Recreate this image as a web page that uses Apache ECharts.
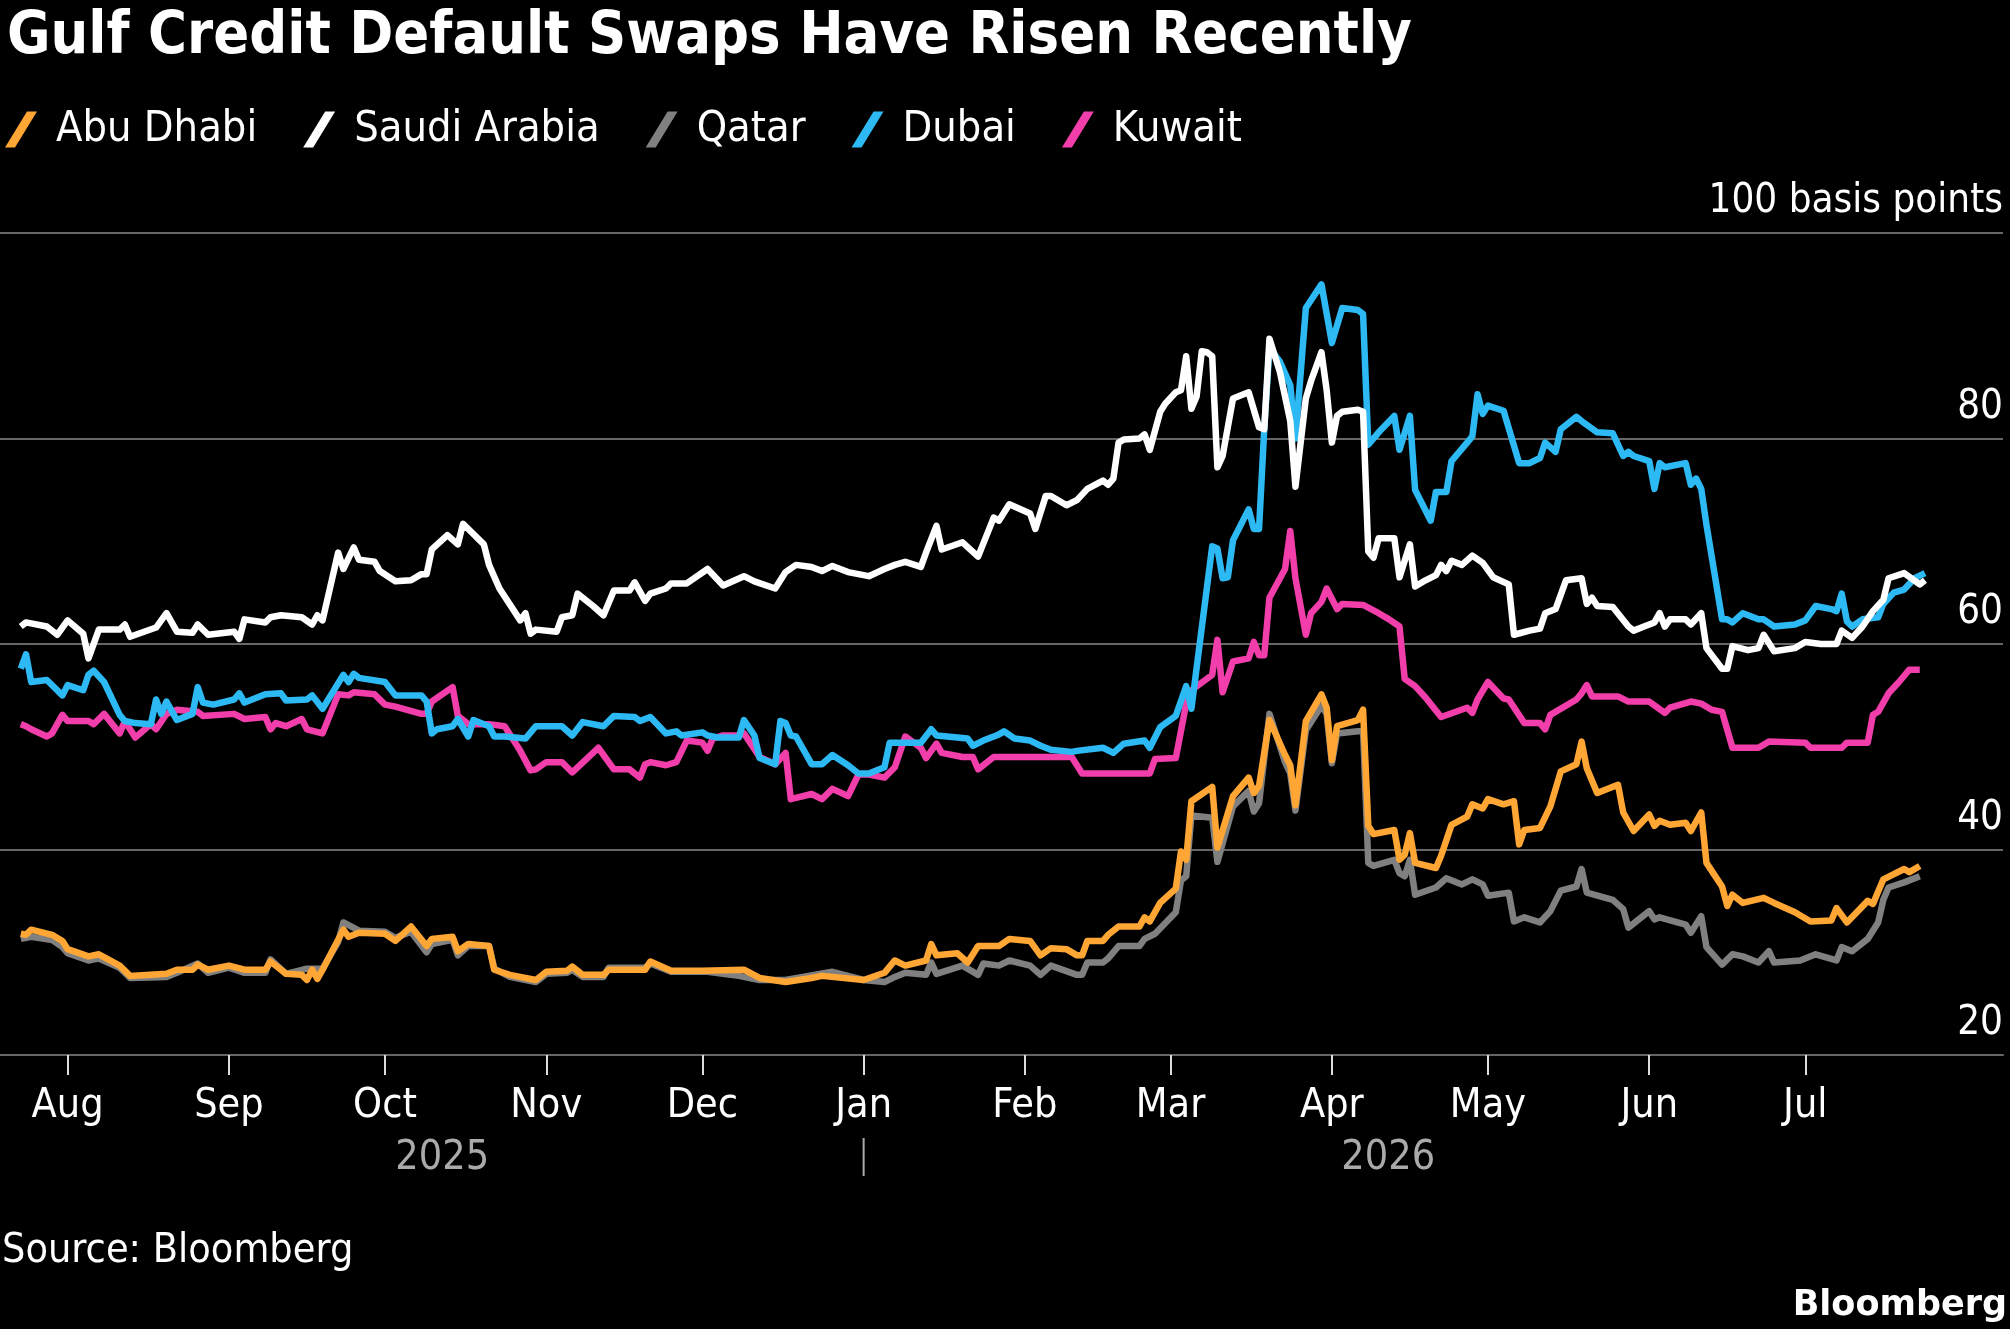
<!DOCTYPE html>
<html>
<head>
<meta charset="utf-8">
<title>Gulf Credit Default Swaps Have Risen Recently</title>
<script src="https://cdn.jsdelivr.net/npm/echarts@6/dist/echarts.min.js"></script>
<style>
  html, body { margin: 0; padding: 0; background: #000; }
  #chart { width: 2010px; height: 1329px; }
</style>
</head>
<body>
<div id="chart"></div>
<script>
const FONT = '"DejaVu Sans Condensed", "DejaVu Sans", sans-serif';
const monthNames = ['Jan', 'Feb', 'Mar', 'Apr', 'May', 'Jun', 'Jul', 'Aug', 'Sep', 'Oct', 'Nov', 'Dec'];
const seriesNames = ['Abu Dhabi', 'Saudi Arabia', 'Qatar', 'Dubai', 'Kuwait'];
const yTicks = [20, 40, 60, 80, 100];
const tickMonths = ['2025-08-01', '2025-09-01', '2025-10-01', '2025-11-01', '2025-12-01', '2026-01-01',
  '2026-02-01', '2026-03-01', '2026-04-01', '2026-05-01', '2026-06-01', '2026-07-01'];

// CDS spreads, basis points
const abuDhabi = [
  ['2025-07-23',31.8],['2025-07-24',31.7],['2025-07-25',32.2],['2025-07-29',31.7],['2025-07-31',31.1],
  ['2025-08-01',30.3],['2025-08-05',29.6],['2025-08-07',29.8],['2025-08-11',28.7],['2025-08-13',27.7],
  ['2025-08-20',27.9],['2025-08-22',28.3],['2025-08-25',28.3],['2025-08-26',28.8],['2025-08-28',28.3],
  ['2025-09-01',28.7],['2025-09-04',28.3],['2025-09-08',28.3],['2025-09-09',29.1],['2025-09-12',27.9],
  ['2025-09-15',27.8],['2025-09-16',27.3],['2025-09-17',28.3],['2025-09-18',27.4],['2025-09-19',28.3],
  ['2025-09-23',32.2],['2025-09-24',31.5],['2025-09-26',31.9],['2025-10-01',31.8],['2025-10-03',31.1],
  ['2025-10-06',32.5],['2025-10-09',30.6],['2025-10-10',31.3],['2025-10-14',31.5],['2025-10-15',30.1],
  ['2025-10-17',30.8],['2025-10-21',30.6],['2025-10-22',28.3],['2025-10-25',27.8],['2025-10-30',27.3],
  ['2025-11-01',28.1],['2025-11-05',28.2],['2025-11-06',28.6],['2025-11-08',27.8],['2025-11-12',27.8],
  ['2025-11-13',28.3],['2025-11-20',28.3],['2025-11-21',29.1],['2025-11-25',28.2],['2025-12-01',28.2],
  ['2025-12-09',28.3],['2025-12-12',27.5],['2025-12-17',27.1],['2025-12-22',27.5],['2025-12-24',27.7],
  ['2026-01-01',27.3],['2026-01-05',28.0],['2026-01-07',29.2],['2026-01-09',28.7],['2026-01-13',29.2],
  ['2026-01-14',30.8],['2026-01-15',29.7],['2026-01-19',29.9],['2026-01-21',29.0],['2026-01-23',30.6],
  ['2026-01-27',30.6],['2026-01-29',31.3],['2026-02-02',31.1],['2026-02-04',29.7],['2026-02-06',30.4],
  ['2026-02-09',30.3],['2026-02-11',29.7],['2026-02-12',29.7],['2026-02-13',31.1],['2026-02-16',31.1],
  ['2026-02-17',31.7],['2026-02-19',32.5],['2026-02-23',32.5],['2026-02-24',33.4],['2026-02-25',33.0],
  ['2026-02-27',34.8],['2026-03-02',36.2],['2026-03-03',39.8],['2026-03-04',39.0],['2026-03-05',44.7],
  ['2026-03-09',46.1],['2026-03-10',40.2],['2026-03-13',45.2],['2026-03-16',47.0],['2026-03-17',45.5],
  ['2026-03-18',46.2],['2026-03-20',52.6],['2026-03-23',49.2],['2026-03-24',48.2],['2026-03-25',44.3],
  ['2026-03-27',52.5],['2026-03-30',55.1],['2026-03-31',53.8],['2026-04-01',48.7],['2026-04-02',52.0],
  ['2026-04-06',52.6],['2026-04-07',53.6],['2026-04-08',42.3],['2026-04-09',41.5],['2026-04-13',41.9],
  ['2026-04-14',39.0],['2026-04-15',39.5],['2026-04-16',41.6],['2026-04-17',38.7],['2026-04-21',38.2],
  ['2026-04-22',39.4],['2026-04-24',42.4],['2026-04-27',43.2],['2026-04-28',44.4],['2026-04-30',44.0],
  ['2026-05-01',44.9],['2026-05-04',44.4],['2026-05-06',44.7],['2026-05-07',40.5],['2026-05-08',41.9],
  ['2026-05-11',42.1],['2026-05-13',44.2],['2026-05-15',47.6],['2026-05-18',48.3],['2026-05-19',50.5],
  ['2026-05-20',47.9],['2026-05-22',45.5],['2026-05-26',46.3],['2026-05-27',43.6],['2026-05-29',41.8],
  ['2026-06-01',43.4],['2026-06-02',42.3],['2026-06-03',42.8],['2026-06-05',42.4],['2026-06-08',42.6],
  ['2026-06-09',41.8],['2026-06-11',43.6],['2026-06-12',38.7],['2026-06-15',36.4],['2026-06-16',34.5],
  ['2026-06-17',35.6],['2026-06-19',34.8],['2026-06-23',35.3],['2026-06-25',34.8],['2026-06-29',33.9],
  ['2026-07-02',33.0],['2026-07-06',33.1],['2026-07-07',34.3],['2026-07-09',32.9],['2026-07-13',35.0],
  ['2026-07-14',34.7],['2026-07-16',37.1],['2026-07-20',38.1],['2026-07-21',37.8],['2026-07-23',38.4]
];

const saudiArabia = [
  ['2025-07-23',61.7],['2025-07-24',62.1],['2025-07-28',61.7],['2025-07-30',60.9],['2025-08-01',62.3],
  ['2025-08-04',61.0],['2025-08-05',58.6],['2025-08-07',61.4],['2025-08-11',61.4],['2025-08-12',61.9],
  ['2025-08-13',60.7],['2025-08-18',61.6],['2025-08-20',63.0],['2025-08-22',61.2],['2025-08-25',61.1],
  ['2025-08-26',61.9],['2025-08-28',60.9],['2025-09-02',61.2],['2025-09-03',60.5],['2025-09-04',62.4],
  ['2025-09-08',62.1],['2025-09-09',62.6],['2025-09-11',62.8],['2025-09-15',62.6],['2025-09-17',61.9],
  ['2025-09-18',62.8],['2025-09-19',62.3],['2025-09-22',68.9],['2025-09-23',67.3],['2025-09-25',69.4],
  ['2025-09-26',68.2],['2025-09-29',68.0],['2025-09-30',67.1],['2025-10-03',66.1],['2025-10-06',66.2],
  ['2025-10-08',66.8],['2025-10-09',66.8],['2025-10-10',69.2],['2025-10-13',70.6],['2025-10-15',69.7],
  ['2025-10-16',71.7],['2025-10-20',69.7],['2025-10-21',67.7],['2025-10-23',65.4],['2025-10-27',62.3],
  ['2025-10-28',63.0],['2025-10-29',61.0],['2025-10-30',61.4],['2025-11-03',61.2],['2025-11-04',62.6],
  ['2025-11-06',62.8],['2025-11-07',64.9],['2025-11-10',63.7],['2025-11-12',62.8],['2025-11-14',65.2],
  ['2025-11-17',65.2],['2025-11-18',66.0],['2025-11-20',64.2],['2025-11-21',64.9],['2025-11-24',65.4],
  ['2025-11-25',65.9],['2025-11-28',65.9],['2025-12-02',67.3],['2025-12-05',65.7],['2025-12-09',66.6],
  ['2025-12-11',66.1],['2025-12-15',65.4],['2025-12-17',67.0],['2025-12-19',67.7],['2025-12-22',67.5],
  ['2025-12-24',67.1],['2025-12-26',67.6],['2025-12-29',67.0],['2025-12-31',66.8],['2026-01-02',66.6],
  ['2026-01-05',67.3],['2026-01-07',67.7],['2026-01-09',68.0],['2026-01-12',67.5],['2026-01-13',68.9],
  ['2026-01-15',71.5],['2026-01-16',69.2],['2026-01-20',69.9],['2026-01-23',68.5],['2026-01-26',72.3],
  ['2026-01-27',72.0],['2026-01-29',73.6],['2026-02-02',72.7],['2026-02-03',71.2],['2026-02-05',74.4],
  ['2026-02-06',74.4],['2026-02-09',73.5],['2026-02-11',74.0],['2026-02-13',75.1],['2026-02-16',75.9],
  ['2026-02-17',75.5],['2026-02-18',76.1],['2026-02-19',79.6],['2026-02-20',79.9],['2026-02-23',80.0],
  ['2026-02-24',80.4],['2026-02-25',78.9],['2026-02-27',82.6],['2026-02-28',83.4],['2026-03-02',84.5],
  ['2026-03-03',84.7],['2026-03-04',88.0],['2026-03-05',82.9],['2026-03-06',84.1],['2026-03-07',88.5],
  ['2026-03-08',88.4],['2026-03-09',88.0],['2026-03-10',77.2],['2026-03-11',78.3],['2026-03-13',83.9],
  ['2026-03-16',84.5],['2026-03-18',81.1],['2026-03-19',80.9],['2026-03-20',89.7],['2026-03-22',86.5],
  ['2026-03-24',81.7],['2026-03-25',75.3],['2026-03-27',83.9],['2026-03-28',85.6],['2026-03-30',88.4],
  ['2026-03-31',84.7],['2026-04-01',79.6],['2026-04-02',82.2],['2026-04-03',82.6],['2026-04-06',82.8],
  ['2026-04-07',82.6],['2026-04-08',69.0],['2026-04-09',68.4],['2026-04-10',70.3],['2026-04-13',70.3],
  ['2026-04-14',66.5],['2026-04-16',69.7],['2026-04-17',65.6],['2026-04-19',66.2],['2026-04-21',66.7],
  ['2026-04-22',67.7],['2026-04-23',67.1],['2026-04-24',68.1],['2026-04-26',67.7],['2026-04-28',68.6],
  ['2026-04-30',67.9],['2026-05-02',66.5],['2026-05-05',65.8],['2026-05-06',60.9],['2026-05-09',61.3],
  ['2026-05-11',61.5],['2026-05-12',63.0],['2026-05-14',63.4],['2026-05-16',66.2],['2026-05-19',66.4],
  ['2026-05-20',63.9],['2026-05-21',64.5],['2026-05-22',63.7],['2026-05-25',63.6],['2026-05-28',61.7],
  ['2026-05-29',61.3],['2026-05-31',61.7],['2026-06-02',62.1],['2026-06-03',63.0],['2026-06-04',61.7],
  ['2026-06-05',62.4],['2026-06-08',62.4],['2026-06-09',61.9],['2026-06-11',63.0],['2026-06-12',59.6],
  ['2026-06-15',57.6],['2026-06-16',57.6],['2026-06-17',59.8],['2026-06-20',59.4],['2026-06-22',59.6],
  ['2026-06-23',60.9],['2026-06-25',59.3],['2026-06-29',59.6],['2026-07-01',60.2],['2026-07-04',60.0],
  ['2026-07-07',60.0],['2026-07-08',61.3],['2026-07-10',60.6],['2026-07-12',61.7],['2026-07-14',63.2],
  ['2026-07-16',64.3],['2026-07-17',66.4],['2026-07-20',66.9],['2026-07-23',65.8],['2026-07-24',66.2]
];

const qatar = [
  ['2025-07-23',31.3],['2025-07-25',31.5],['2025-07-29',31.2],['2025-07-31',30.5],['2025-08-01',29.9],
  ['2025-08-05',29.2],['2025-08-07',29.4],['2025-08-11',28.5],['2025-08-13',27.5],['2025-08-20',27.6],
  ['2025-08-22',28.0],['2025-08-26',28.9],['2025-08-28',28.0],['2025-09-01',28.5],['2025-09-04',28.0],
  ['2025-09-08',28.0],['2025-09-09',29.3],['2025-09-12',27.9],['2025-09-16',28.4],['2025-09-19',28.4],
  ['2025-09-22',31.0],['2025-09-23',32.9],['2025-09-26',32.1],['2025-10-01',32.0],['2025-10-03',31.4],
  ['2025-10-06',32.0],['2025-10-09',30.0],['2025-10-10',30.8],['2025-10-14',31.2],['2025-10-15',29.7],
  ['2025-10-17',30.6],['2025-10-21',30.6],['2025-10-22',28.4],['2025-10-25',27.6],['2025-10-30',27.1],
  ['2025-11-01',27.9],['2025-11-05',28.0],['2025-11-06',28.3],['2025-11-08',27.6],['2025-11-12',27.6],
  ['2025-11-13',28.5],['2025-11-20',28.5],['2025-11-21',28.9],['2025-11-25',28.1],['2025-12-02',28.1],
  ['2025-12-08',27.7],['2025-12-12',27.3],['2025-12-17',27.3],['2025-12-26',28.1],['2026-01-01',27.3],
  ['2026-01-05',27.1],['2026-01-07',27.6],['2026-01-09',28.0],['2026-01-13',27.8],['2026-01-14',29.0],
  ['2026-01-15',27.9],['2026-01-20',28.7],['2026-01-23',27.8],['2026-01-24',28.9],['2026-01-27',28.7],
  ['2026-01-29',29.2],['2026-02-02',28.7],['2026-02-04',27.8],['2026-02-06',28.7],['2026-02-11',27.8],
  ['2026-02-12',27.8],['2026-02-13',29.0],['2026-02-16',29.0],['2026-02-17',29.4],['2026-02-19',30.6],
  ['2026-02-23',30.6],['2026-02-24',31.3],['2026-02-26',31.8],['2026-03-02',33.9],['2026-03-03',37.0],
  ['2026-03-04',37.4],['2026-03-05',43.3],['2026-03-09',43.1],['2026-03-10',38.8],['2026-03-13',44.2],
  ['2026-03-16',45.7],['2026-03-17',43.7],['2026-03-18',44.5],['2026-03-20',53.2],['2026-03-23',48.5],
  ['2026-03-24',47.4],['2026-03-25',43.8],['2026-03-27',51.6],['2026-03-30',54.0],['2026-03-31',53.2],
  ['2026-04-01',48.4],['2026-04-02',51.3],['2026-04-06',51.5],['2026-04-07',51.5],['2026-04-08',38.7],
  ['2026-04-09',38.4],['2026-04-13',39.0],['2026-04-14',37.7],['2026-04-15',37.4],['2026-04-16',39.0],
  ['2026-04-17',35.6],['2026-04-21',36.3],['2026-04-23',37.2],['2026-04-26',36.6],['2026-04-28',37.1],
  ['2026-04-30',36.6],['2026-05-01',35.5],['2026-05-05',35.8],['2026-05-06',33.0],['2026-05-08',33.4],
  ['2026-05-11',32.9],['2026-05-13',34.0],['2026-05-15',36.0],['2026-05-18',36.4],['2026-05-19',38.1],
  ['2026-05-20',35.8],['2026-05-25',35.1],['2026-05-27',34.2],['2026-05-28',32.4],['2026-06-01',34.0],
  ['2026-06-02',33.2],['2026-06-03',33.4],['2026-06-08',32.7],['2026-06-09',31.9],['2026-06-11',33.5],
  ['2026-06-12',30.5],['2026-06-15',28.8],['2026-06-17',29.8],['2026-06-19',29.6],['2026-06-22',29.0],
  ['2026-06-24',30.1],['2026-06-25',29.0],['2026-06-30',29.2],['2026-07-03',29.8],['2026-07-07',29.2],
  ['2026-07-08',30.5],['2026-07-10',30.1],['2026-07-13',31.3],['2026-07-15',32.9],['2026-07-16',35.1],
  ['2026-07-17',36.3],['2026-07-20',36.8],['2026-07-23',37.4]
];

const dubai = [
  ['2025-07-23',57.6],['2025-07-24',59.0],['2025-07-25',56.3],['2025-07-28',56.5],['2025-07-31',55.0],
  ['2025-08-01',56.0],['2025-08-04',55.5],['2025-08-05',57.0],['2025-08-06',57.4],['2025-08-08',56.3],
  ['2025-08-11',53.1],['2025-08-12',52.5],['2025-08-14',52.3],['2025-08-17',52.2],['2025-08-18',54.6],
  ['2025-08-19',53.2],['2025-08-20',54.4],['2025-08-22',52.6],['2025-08-25',53.2],['2025-08-26',55.8],
  ['2025-08-27',54.3],['2025-08-29',54.1],['2025-09-02',54.6],['2025-09-03',55.2],['2025-09-04',54.3],
  ['2025-09-08',55.1],['2025-09-11',55.2],['2025-09-12',54.5],['2025-09-16',54.6],['2025-09-17',55.0],
  ['2025-09-19',53.7],['2025-09-23',57.0],['2025-09-24',56.3],['2025-09-25',57.1],['2025-09-26',56.7],
  ['2025-10-01',56.3],['2025-10-03',55.0],['2025-10-08',55.0],['2025-10-09',54.4],['2025-10-10',51.3],
  ['2025-10-11',51.7],['2025-10-14',52.0],['2025-10-15',52.7],['2025-10-17',51.0],['2025-10-18',52.6],
  ['2025-10-21',52.0],['2025-10-22',51.0],['2025-10-24',51.0],['2025-10-28',50.8],['2025-10-30',52.0],
  ['2025-11-04',52.0],['2025-11-06',51.1],['2025-11-08',52.4],['2025-11-12',52.0],['2025-11-14',53.0],
  ['2025-11-18',52.9],['2025-11-19',52.5],['2025-11-21',52.9],['2025-11-24',51.3],['2025-11-26',51.5],
  ['2025-11-27',51.1],['2025-12-01',51.4],['2025-12-02',51.1],['2025-12-04',50.9],['2025-12-08',50.9],
  ['2025-12-09',52.6],['2025-12-11',51.1],['2025-12-12',48.9],['2025-12-15',48.3],['2025-12-16',52.5],
  ['2025-12-17',52.3],['2025-12-18',51.1],['2025-12-19',51.0],['2025-12-22',48.3],['2025-12-24',48.3],
  ['2025-12-26',49.2],['2025-12-29',48.2],['2025-12-31',47.4],['2026-01-02',47.4],['2026-01-05',48.0],
  ['2026-01-06',50.4],['2026-01-07',50.4],['2026-01-12',50.4],['2026-01-14',51.7],['2026-01-15',51.1],
  ['2026-01-21',50.8],['2026-01-22',50.1],['2026-01-24',50.6],['2026-01-27',51.2],['2026-01-28',51.5],
  ['2026-01-30',50.8],['2026-02-02',50.6],['2026-02-04',50.1],['2026-02-06',49.7],['2026-02-10',49.5],
  ['2026-02-11',49.6],['2026-02-16',49.9],['2026-02-18',49.4],['2026-02-20',50.3],['2026-02-24',50.6],
  ['2026-02-25',49.9],['2026-02-27',51.9],['2026-03-02',53.0],['2026-03-04',55.9],['2026-03-05',53.7],
  ['2026-03-09',69.5],['2026-03-10',69.3],['2026-03-11',66.4],['2026-03-12',66.5],['2026-03-13',70.1],
  ['2026-03-16',73.1],['2026-03-17',71.2],['2026-03-18',71.2],['2026-03-19',80.9],['2026-03-20',88.8],
  ['2026-03-22',87.5],['2026-03-24',85.2],['2026-03-25',80.0],['2026-03-27',92.7],['2026-03-30',95.0],
  ['2026-04-01',89.3],['2026-04-03',92.7],['2026-04-06',92.5],['2026-04-07',92.1],['2026-04-08',79.4],
  ['2026-04-10',80.6],['2026-04-13',82.2],['2026-04-14',78.9],['2026-04-16',82.2],['2026-04-17',75.0],
  ['2026-04-20',72.0],['2026-04-21',74.8],['2026-04-23',74.8],['2026-04-24',77.8],['2026-04-27',79.6],
  ['2026-04-28',80.2],['2026-04-29',84.3],['2026-04-30',82.4],['2026-05-01',83.2],['2026-05-04',82.7],
  ['2026-05-07',77.6],['2026-05-09',77.6],['2026-05-11',78.1],['2026-05-12',79.6],['2026-05-14',78.7],
  ['2026-05-15',80.9],['2026-05-18',82.1],['2026-05-19',81.7],['2026-05-22',80.6],['2026-05-25',80.5],
  ['2026-05-27',78.3],['2026-05-28',78.7],['2026-05-29',78.3],['2026-06-01',77.8],['2026-06-02',75.1],
  ['2026-06-03',77.6],['2026-06-04',77.2],['2026-06-08',77.6],['2026-06-09',75.5],['2026-06-10',76.1],
  ['2026-06-11',75.1],['2026-06-12',71.6],['2026-06-15',62.4],['2026-06-16',62.4],['2026-06-17',62.1],
  ['2026-06-19',63.0],['2026-06-22',62.4],['2026-06-23',62.4],['2026-06-25',61.7],['2026-06-29',61.9],
  ['2026-07-01',62.3],['2026-07-03',63.7],['2026-07-06',63.4],['2026-07-07',63.2],['2026-07-08',64.9],
  ['2026-07-09',62.2],['2026-07-10',61.7],['2026-07-12',62.4],['2026-07-15',62.6],['2026-07-16',63.9],
  ['2026-07-18',65.0],['2026-07-20',65.3],['2026-07-22',66.4],['2026-07-24',66.9]
];

const kuwait = [
  ['2025-07-23',52.2],['2025-07-24',52.0],['2025-07-25',51.7],['2025-07-28',51.0],['2025-07-29',51.3],
  ['2025-07-31',53.1],['2025-08-01',52.5],['2025-08-05',52.5],['2025-08-06',52.2],['2025-08-07',52.7],
  ['2025-08-08',53.2],['2025-08-11',51.3],['2025-08-12',52.5],['2025-08-14',50.9],['2025-08-17',52.2],
  ['2025-08-18',51.7],['2025-08-20',53.2],['2025-08-22',53.6],['2025-08-26',53.4],['2025-08-27',53.0],
  ['2025-09-02',53.2],['2025-09-04',52.7],['2025-09-08',52.9],['2025-09-09',51.7],['2025-09-10',52.3],
  ['2025-09-12',52.0],['2025-09-15',52.7],['2025-09-16',51.7],['2025-09-19',51.3],['2025-09-22',55.1],
  ['2025-09-24',55.0],['2025-09-25',55.3],['2025-09-29',55.1],['2025-10-01',54.1],['2025-10-03',53.9],
  ['2025-10-08',53.2],['2025-10-09',53.2],['2025-10-10',54.4],['2025-10-14',55.8],['2025-10-15',53.0],
  ['2025-10-17',52.2],['2025-10-21',52.2],['2025-10-24',52.0],['2025-10-27',49.6],['2025-10-29',47.7],
  ['2025-10-30',47.8],['2025-11-01',48.5],['2025-11-04',48.5],['2025-11-06',47.5],['2025-11-11',49.9],
  ['2025-11-14',47.8],['2025-11-17',47.8],['2025-11-19',47.0],['2025-11-20',48.3],['2025-11-21',48.5],
  ['2025-11-24',48.2],['2025-11-26',48.5],['2025-11-28',50.6],['2025-12-01',50.4],['2025-12-02',49.6],
  ['2025-12-03',50.8],['2025-12-05',51.1],['2025-12-08',51.1],['2025-12-09',51.3],['2025-12-12',49.0],
  ['2025-12-15',48.3],['2025-12-17',49.4],['2025-12-18',44.9],['2025-12-22',45.4],['2025-12-24',44.9],
  ['2025-12-26',45.9],['2025-12-29',45.2],['2025-12-31',47.3],['2026-01-02',47.3],['2026-01-05',47.0],
  ['2026-01-07',48.0],['2026-01-09',51.0],['2026-01-12',49.9],['2026-01-13',48.9],['2026-01-15',50.3],
  ['2026-01-16',49.4],['2026-01-20',49.0],['2026-01-22',49.0],['2026-01-23',47.8],['2026-01-26',49.0],
  ['2026-02-03',49.0],['2026-02-10',49.0],['2026-02-12',47.4],['2026-02-25',47.4],['2026-02-26',48.8],
  ['2026-03-02',48.9],['2026-03-04',54.2],['2026-03-05',55.5],['2026-03-09',57.0],['2026-03-10',60.4],
  ['2026-03-11',55.3],['2026-03-13',58.3],['2026-03-16',58.6],['2026-03-17',60.2],['2026-03-18',58.9],
  ['2026-03-19',58.9],['2026-03-20',64.5],['2026-03-23',67.3],['2026-03-24',71.0],['2026-03-25',66.4],
  ['2026-03-27',60.9],['2026-03-28',63.0],['2026-03-30',64.1],['2026-03-31',65.4],['2026-04-02',63.4],
  ['2026-04-03',63.9],['2026-04-07',63.8],['2026-04-10',63.0],['2026-04-12',62.4],['2026-04-14',61.7],
  ['2026-04-15',56.6],['2026-04-17',55.9],['2026-04-19',54.8],['2026-04-22',52.9],['2026-04-27',53.8],
  ['2026-04-28',53.3],['2026-04-29',54.6],['2026-05-01',56.3],['2026-05-04',54.7],['2026-05-05',54.6],
  ['2026-05-08',52.3],['2026-05-11',52.3],['2026-05-12',51.7],['2026-05-13',53.1],['2026-05-18',54.6],
  ['2026-05-19',55.2],['2026-05-20',56.0],['2026-05-21',54.9],['2026-05-26',54.9],['2026-05-28',54.4],
  ['2026-06-01',54.4],['2026-06-04',53.3],['2026-06-05',53.8],['2026-06-09',54.4],['2026-06-11',54.2],
  ['2026-06-13',53.6],['2026-06-15',53.4],['2026-06-17',49.9],['2026-06-22',49.9],['2026-06-24',50.5],
  ['2026-07-01',50.4],['2026-07-02',49.9],['2026-07-08',49.9],['2026-07-09',50.4],['2026-07-13',50.4],
  ['2026-07-14',53.1],['2026-07-15',53.4],['2026-07-17',55.2],['2026-07-19',56.3],['2026-07-21',57.5],
  ['2026-07-23',57.5]
];

const colors = {
  'Abu Dhabi': '#FFA634',
  'Saudi Arabia': '#FFFFFF',
  'Qatar': '#808080',
  'Dubai': '#2DB9F3',
  'Kuwait': '#F23EAB'
};
const seriesData = {
  'Abu Dhabi': abuDhabi,
  'Saudi Arabia': saudiArabia,
  'Qatar': qatar,
  'Dubai': dubai,
  'Kuwait': kuwait
};
// Kuwait drawn first, Abu Dhabi last (on top)
const drawOrder = ['Kuwait', 'Dubai', 'Qatar', 'Saudi Arabia', 'Abu Dhabi'];

function toTime(s) {
  const p = s.split('-');
  return new Date(+p[0], +p[1] - 1, +p[2]).getTime();
}

const chart = echarts.init(document.getElementById('chart'));
const monthTicks = tickMonths.map(toTime);

// x is a plain value axis in epoch ms so the month ticks can be listed exactly
const option = {
  backgroundColor: '#000',
  animation: false,
  title: {
    text: 'Gulf Credit Default Swaps Have Risen Recently',
    left: 2,
    top: 3,
    textStyle: { color: '#fff', fontSize: 59, fontWeight: 'bold', fontFamily: FONT }
  },
  legend: {
    data: seriesNames,
    left: 0,
    top: 103,
    itemWidth: 32,
    itemHeight: 36,
    itemGap: 46,
    icon: 'path://M0,36 L22,0 L32,0 L10,36 Z',
    textStyle: { color: '#fff', fontSize: 43, fontFamily: FONT, padding: [0, 0, 0, 14] }
  },
  grid: { left: 0, right: 7, top: 233, bottom: 274, containLabel: false },
  xAxis: {
    type: 'value',
    min: toTime('2025-07-19'),
    max: toTime('2026-08-08'),
    axisLine: { show: true, onZero: false, lineStyle: { color: '#666', width: 2 } },
    axisTick: { show: true, length: 20, customValues: monthTicks, lineStyle: { color: '#ddd', width: 2 } },
    splitLine: { show: false },
    axisLabel: {
      customValues: monthTicks,
      color: '#fff',
      fontSize: 41,
      fontFamily: FONT,
      margin: 31,
      formatter: function (value) {
        return monthNames[new Date(value).getMonth()];
      }
    }
  },
  yAxis: {
    type: 'value',
    position: 'right',
    min: yTicks[0],
    max: yTicks[yTicks.length - 1],
    interval: 20,
    axisLine: { show: false },
    axisTick: { show: false },
    splitLine: { show: true, lineStyle: { color: '#666', width: 2 } },
    axisLabel: {
      inside: true,
      margin: 0,
      color: '#fff',
      fontSize: 40,
      fontFamily: FONT,
      verticalAlign: 'bottom',
      padding: [0, 0, 11, 0],
      formatter: function (v) {
        return v === 100 ? '100 basis points' : String(v);
      }
    }
  },
  series: drawOrder.map(function (name) {
    return {
      name: name,
      type: 'line',
      showSymbol: false,
      symbol: 'none',
      color: colors[name],
      lineStyle: { width: 6.5, color: colors[name], join: 'round' },
      data: seriesData[name].map(function (d) { return [toTime(d[0]), d[1]]; })
    };
  })
};

chart.setOption(option);

// year labels under the month labels, placed with the axis scale
const firstDay = toTime(saudiArabia[0][0]);
const lastDay = toTime(saudiArabia[saudiArabia.length - 1][0]);
const yearStart = toTime('2026-01-01');
const x2025 = chart.convertToPixel({ xAxisIndex: 0 }, (firstDay + yearStart) / 2);
const x2026 = chart.convertToPixel({ xAxisIndex: 0 }, (yearStart + lastDay) / 2);
const xJan = chart.convertToPixel({ xAxisIndex: 0 }, yearStart);

chart.setOption({
  graphic: [
    {
      type: 'text',
      x: x2025, y: 1158,
      style: { text: '2025', fill: '#aaa', font: '41px ' + FONT, textAlign: 'center', textVerticalAlign: 'middle' }
    },
    {
      type: 'text',
      x: x2026 - 6, y: 1158,
      style: { text: '2026', fill: '#aaa', font: '41px ' + FONT, textAlign: 'center', textVerticalAlign: 'middle' }
    },
    {
      type: 'line',
      shape: { x1: xJan, y1: 1138, x2: xJan, y2: 1176 },
      style: { stroke: '#aaa', lineWidth: 2 }
    },
    {
      type: 'text',
      left: 2, top: 1231,
      style: { text: 'Source: Bloomberg', fill: '#fff', font: '41px ' + FONT }
    },
    {
      type: 'text',
      right: 3, top: 1288,
      style: { text: 'Bloomberg', fill: '#fff', font: 'bold 35px "DejaVu Sans", sans-serif' }
    }
  ]
});

window.addEventListener('resize', chart.resize);
</script>
</body>
</html>
